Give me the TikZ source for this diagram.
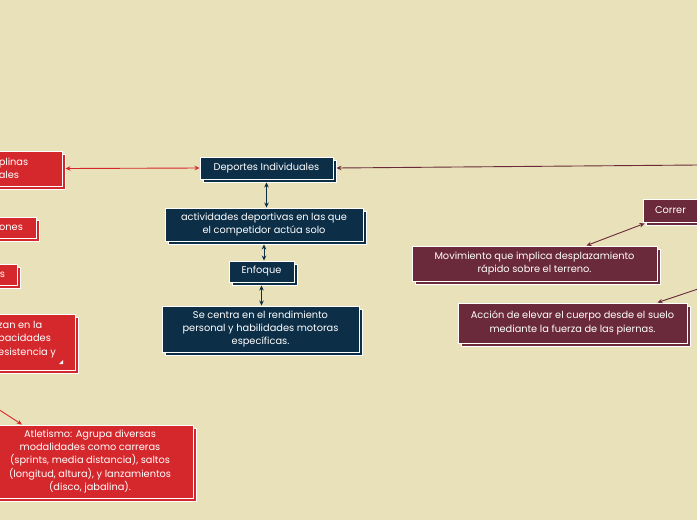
\documentclass[tikz,border=0pt]{standalone}
\usepackage{fontspec}
\setmainfont{Poppins}
\usetikzlibrary{arrows.meta,shadows}
\definecolor{bg}{HTML}{E8E1B9}
\definecolor{navy}{HTML}{0C2E47}
\definecolor{redc}{HTML}{D5282C}
\definecolor{maroon}{HTML}{6A2A3B}
\begin{document}
\begin{tikzpicture}[x=1pt,y=-1pt,
  box/.style={fill=#1, draw=white, line width=0.9pt, text=white, align=center,
    font=\fontsize{9.8}{13.3}\selectfont, inner sep=0pt,
    general shadow={shadow xshift=3pt, shadow yshift=-3pt, fill=#1, draw=white, line width=0.9pt}},
  txt/.style={text=white, font=\fontsize{9.8}{13.3}\selectfont, inner sep=0pt},
  arr/.style={line width=0.9pt, >={Stealth[length=5pt,width=4.5pt]}}]
\useasboundingbox (0,0) rectangle (697,520);
\fill[bg] (0,0) rectangle (697,520);
\clip (0,0) rectangle (697,520);

% centre column
\node[box=navy, minimum width=133, minimum height=22] (dep) at (266.5,168) {Deportes Individuales};
\node[box=navy, minimum width=198, minimum height=33] (act) at (264,224.5) {actividades deportivas en las que\\el competidor actúa solo};
\node[box=navy, minimum width=65, minimum height=21] (enf) at (261.5,271.5) {Enfoque};
\node[box=navy, minimum width=197, minimum height=46] (sec) at (260.5,329) {Se centra en el rendimiento\\personal y habilidades motoras\\específicas.};

% left red boxes (cut by the edge)
\node[box=redc, minimum width=97, minimum height=35, align=left] (r1) at (13.5,168.5) {plinas\\ales};
\node[box=redc, minimum width=50, minimum height=21] (r2) at (11,227.5) {ones};
\node[box=redc, minimum width=29, minimum height=21] (r3) at (2.5,274.5) {s};
\node[box=redc, minimum width=95, minimum height=56] (r4) at (27.5,342) {};
\node[txt, anchor=west, align=left] (r4t) at (-2,339.5) {zan en la\\pacidades\\esistencia y};
\fill[white] (59,364) -- (63,364) -- (63,360) -- cycle;
\node[box=redc, minimum width=206, minimum height=73] (atl) at (90,461.5) {Atletismo: Agrupa diversas\\modalidades como carreras\\(sprints, media distancia), saltos\\(longitud, altura), y lanzamientos\\(disco, jabalina).};

% right maroon boxes
\node[box=maroon, minimum width=55, minimum height=23] (cor) at (670.5,210.5) {Correr};
\node[box=maroon, minimum width=245, minimum height=35] (mov) at (534.5,263.5) {Movimiento que implica desplazamiento\\rápido sobre el terreno.};
\node[box=maroon, minimum width=229, minimum height=40] (acc) at (572.5,323) {Acción de elevar el cuerpo desde el suelo\\mediante la fuerza de las piernas.};

% connectors
\coordinate (mr) at (698,165);
\coordinate (ar) at (698,289);
\coordinate (al) at (-2,409);
\draw[arr, redc, <->] ([xshift=3pt]r1.east) -- (dep.west);
\draw[arr, maroon, ->] (mr) -- ([xshift=3pt]dep.east);
\draw[arr, navy, <->] ([yshift=-3pt]dep.south) -- (dep.south |- act.north);
\draw[arr, navy, <->] ([yshift=-3pt]act.south) -- (act.south |- enf.north);
\draw[arr, navy, <->] ([yshift=-3pt]enf.south) -- (enf.south |- sec.north);
\draw[arr, maroon, <->] ([xshift=2pt,yshift=-1pt]cor.south west) -- ([xshift=52pt]mov.north);
\draw[arr, maroon, ->] (ar) -- ([xshift=85pt]acc.north);
\draw[arr, redc, ->] (al) -- ([xshift=-68pt]atl.north);
\end{tikzpicture}
\end{document}
